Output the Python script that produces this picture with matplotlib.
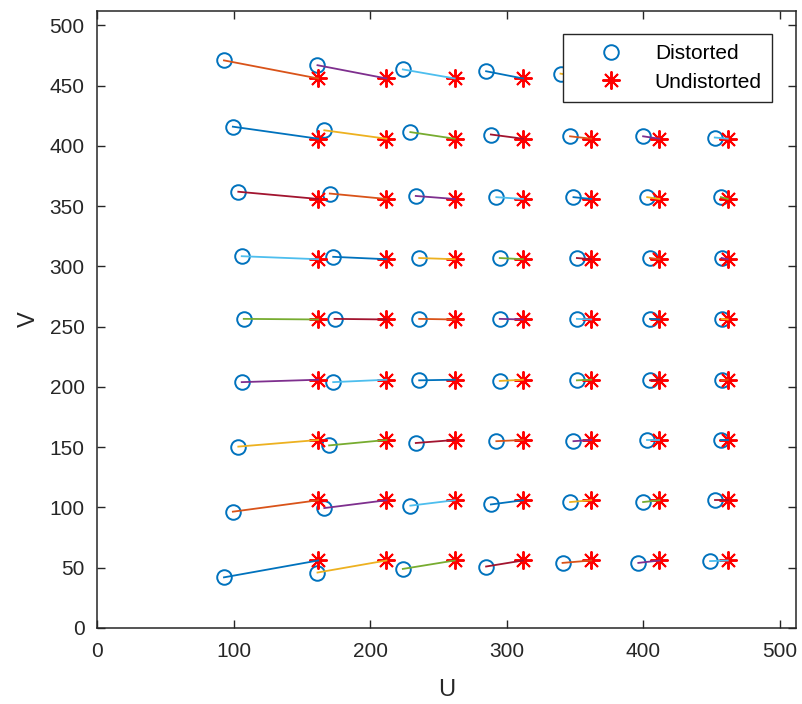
import numpy as np
import matplotlib.pyplot as plt

# Undistorted grid (U columns, V rows)
u_und = [162, 212, 262, 312, 362, 412, 462]
v_und = [56, 106, 156, 206, 256, 306, 356, 406, 456]

# Distorted points, one row per V (bottom to top)
u_dist = [
    [93, 161.5, 224, 285, 341, 396.5, 449],
    [99.5, 166.5, 229.5, 288.5, 346.5, 400, 452.5],
    [103.5, 170, 233.5, 292.5, 349, 403, 457],
    [106, 173, 236, 295, 351.5, 405, 457.5],
    [107.5, 174, 236, 295, 351.5, 405, 457.5],
    [106, 173, 236, 295, 351.5, 405, 457.5],
    [103.5, 170.5, 233.5, 292.5, 349, 403, 457],
    [99.5, 166.5, 229.5, 288.5, 346.5, 400, 452.5],
    [93, 161.5, 224, 285, 339.5, 397, 449],
]
v_dist = [
    [42, 46, 49, 51, 54, 54, 55.5],
    [96.5, 99.5, 101.5, 102.5, 104.5, 104.5, 106],
    [150.5, 151.5, 153.5, 155, 155, 156, 156],
    [204, 204, 205.5, 205, 205.5, 205.5, 205.5],
    [256.5, 256.5, 256.5, 256.5, 256.5, 256.5, 256.5],
    [308.5, 308, 307, 307, 307, 307, 307],
    [362, 360.5, 358.5, 357.5, 357.5, 357.5, 357.5],
    [416, 413, 411.5, 409.5, 408, 408, 407],
    [471, 467, 463.5, 462, 460, 459, 458],
]

plt.rcParams['font.family'] = ['Liberation Sans', 'DejaVu Sans']
matlab_colors = ['#0072BD', '#D95319', '#EDB120', '#7E2F8E',
                 '#77AC30', '#4DBEEE', '#A2142F']

ud = np.array(u_dist)
vd = np.array(v_dist)
uu, vv = np.meshgrid(u_und, v_und)

fig = plt.figure(figsize=(8.03, 7.04), dpi=100)
ax = fig.add_axes([0.1208, 0.108, 0.8705, 0.8764])

ax.plot(ud.ravel(), vd.ravel(), 'o', markerfacecolor='none',
        markeredgecolor='#0072BD', markersize=10.5, markeredgewidth=1.4,
        label='Distorted')
ax.plot(uu.ravel(), vv.ravel(), linestyle='none', marker=(8, 2, 0),
        color='red', markersize=13, markeredgewidth=1.4, label='Undistorted')

# lines between pairs, column by column (colour cycle order)
k = 0
for j in range(len(u_und)):
    for i in range(len(v_und)):
        ax.plot([ud[i, j], uu[i, j]], [vd[i, j], vv[i, j]], linewidth=1.3,
                color=matlab_colors[k % 7])
        k += 1

ax.set_xlim(0, 512)
ax.set_ylim(0, 512)
ax.set_xticks(np.arange(0, 501, 100))
ax.set_yticks(np.arange(0, 501, 50))
ax.tick_params(direction='in', top=True, right=True, length=6, width=1,
               labelsize=15, colors='#262626')
ax.tick_params(axis='x', pad=10)
ax.tick_params(axis='y', pad=9)
for s in ax.spines.values():
    s.set_linewidth(1.1)
    s.set_color('#262626')
ax.set_xlabel('U', fontsize=17, color='#262626', labelpad=13)
ax.set_ylabel('V', fontsize=17, color='#262626', labelpad=7)

leg = ax.legend(loc='upper right', bbox_to_anchor=(0.966, 0.963),
                fontsize=15, fancybox=False, framealpha=1,
                edgecolor='#262626', handlelength=3.6, borderpad=0.5,
                labelspacing=0.45, handletextpad=0.3, borderaxespad=0)
leg.get_frame().set_linewidth(1.0)
leg.set_zorder(10)

fig.savefig('out.png', dpi=100)
